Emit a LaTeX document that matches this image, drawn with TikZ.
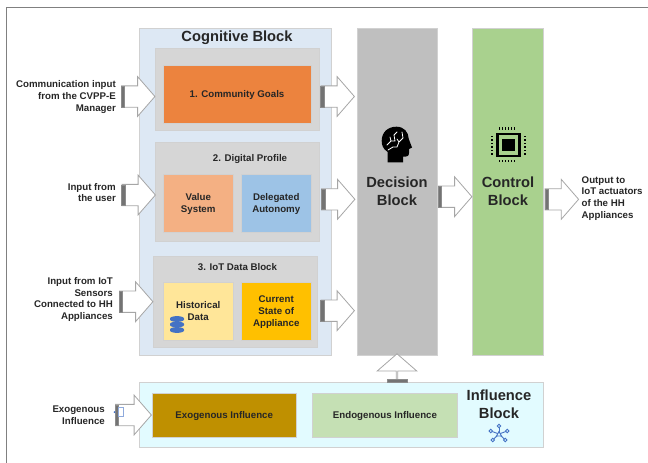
\documentclass[tikz,border=0pt]{standalone}
\usepackage{fontspec}
\setmainfont{Liberation Sans}
\usepackage{xcolor}
\definecolor{ColCog}{RGB}{221,232,244}
\definecolor{ColInner}{RGB}{214,214,214}
\definecolor{ColGoal}{RGB}{236,131,62}
\definecolor{ColValue}{RGB}{244,176,131}
\definecolor{ColAuto}{RGB}{157,195,230}
\definecolor{ColHist}{RGB}{255,230,153}
\definecolor{ColCurr}{RGB}{255,192,0}
\definecolor{ColDec}{RGB}{191,191,191}
\definecolor{ColCtrl}{RGB}{169,209,142}
\definecolor{ColInfl}{RGB}{226,251,255}
\definecolor{ColExo}{RGB}{191,144,0}
\definecolor{ColEndo}{RGB}{197,224,180}
\definecolor{ColIcon}{RGB}{68,114,196}
\usetikzlibrary{shapes.arrows}
\tikzstyle{Box}=[draw=black!18,line width=.8pt,inner sep=0pt,align=center,
text depth=0pt,text=black!85,font=\fontsize{9.7}{11.8}\selectfont\bfseries]
\tikzstyle{Title}=[inner sep=0pt,align=center,text=black!85,
font=\fontsize{14.7}{17.6}\selectfont\bfseries]
\tikzstyle{Label}=[inner sep=0pt,text=black!85,
font=\fontsize{9.7}{11.8}\selectfont\bfseries]
\tikzstyle{LabelR}=[Label,anchor=east,align=right]
\tikzstyle{LabelL}=[Label,anchor=west,align=left]
\tikzstyle{BlockArrow}=[single arrow,anchor=tail,draw=black!35,fill=white,
line width=.8pt,inner xsep=0pt,inner ysep=10.25pt,minimum width=39.5pt,
single arrow head extend=9.25pt,
single arrow tip angle=98,minimum height=33.5pt]
\tikzstyle{Band}=[draw=black!45,fill=black!55,line width=.5pt,inner sep=0pt,
minimum width=3.5pt,minimum height=20.5pt]
\begin{document}
\begin{tikzpicture}[x=1pt,y=-1pt]
        \useasboundingbox(0,0)rectangle(648,463);
        \coordinate(fa)at(648,7.5);
        \coordinate(fb)at(6.5,7.5);
        \coordinate(fc)at(6.5,463);
        \draw[black!50,line width=1pt](fa)--(fb)--(fc);
        % cognitive block
        \node[Box,fill=ColCog,minimum width=192.5pt,minimum height=327pt](cog)at(235.25,191.5){};
        \node[Title](cogt)at(237,37.5){Cognitive Block};
        \node[Box,fill=ColInner,minimum width=164.5pt,minimum height=82.5pt](g1)at(237.25,89.25){};
        \node[Box,fill=ColGoal,minimum width=148pt,minimum height=58pt](goal)at(237,94){1. Community Goals};
        \node[Box,fill=ColInner,minimum width=164.5pt,minimum height=98.5pt](g2)at(237.25,191.75){};
        \node[Label](g2t)at(250,158.8){2. Digital Profile};
        \node[Box,fill=ColValue,minimum width=70.5pt,minimum height=58pt](val)at(198.25,203){Value\\System};
        \node[Box,fill=ColAuto,minimum width=70.5pt,minimum height=58pt](aut)at(276.25,203){Delegated\\Autonomy};
        \node[Box,fill=ColInner,minimum width=164pt,minimum height=91pt](g3)at(235.5,302.2){};
        \node[Label](g3t)at(237.5,267){3. IoT Data Block};
        \node[Box,fill=ColHist,minimum width=70.5pt,minimum height=58pt](his)at(198.25,311){Historical\\Data};
        \node[Box,fill=ColCurr,minimum width=70.5pt,minimum height=58pt](cur)at(276.25,311){Current\\State of\\Appliance};
        % decision and control
        \node[Box,fill=ColDec,minimum width=80.5pt,minimum height=327pt](dec)at(397.2,191.5){};
        \node[Title](dect)at(397,191.5){Decision\\Block};
        \node[Box,fill=ColCtrl,minimum width=70.5pt,minimum height=327pt](ctl)at(508,191.5){};
        \node[Title](ctlt)at(508,191.5){Control\\Block};
        % influence block
        \node[Box,fill=ColInfl,minimum width=404.5pt,minimum height=65pt](inf)at(341.25,415.2){};
        \node[Box,fill=ColExo,minimum width=144.5pt,minimum height=44.5pt](exo)at(224.25,415.2){Exogenous Influence};
        \node[Box,fill=ColEndo,minimum width=145pt,minimum height=44.5pt](end)at(385,415.2){Endogenous Influence};
        \node[Title](inft)at(499,404){Influence\\Block};
        % side labels
        \node[LabelR](l1)at(116,97){Communication input\\from the CVPP-E\\Manager};
        \node[LabelR](l2)at(116,192.5){Input from\\the user};
        \node[LabelR](l3)at(113,299.5){Input from IoT\\Sensors\\Connected to HH\\Appliances};
        \node[LabelR](l4)at(105,415.5){Exogenous\\Influence};
        \node[LabelL](l5)at(581.5,198.5){Output to\\IoT actuators\\of the HH\\Appliances};
        % arrows
        \node[BlockArrow](a1)at(121,96.5){};
        \node[BlockArrow](a2)at(121.5,195){};
        \node[BlockArrow](a3)at(119,301.7){};
        \node[BlockArrow,minimum height=36pt](a4)at(115,415){};
        \node[BlockArrow](o1)at(320.5,96.5){};
        \node[BlockArrow](o2)at(321,199.3){};
        \node[BlockArrow](o3)at(320.5,310.7){};
        \node[BlockArrow](o4)at(438,196.7){};
        \node[BlockArrow](o5)at(544.7,199.3){};
        \node[BlockArrow,shape border rotate=90,minimum height=28.5pt](up)at(397,382.7){};
        \node[Band](b1)at(122.5,96.5){};
        \node[Band](b2)at(123,195){};
        \node[Band](b3)at(120.5,301.7){};
        \node[Band](b4)at(116.5,415){};
        \node[Band](b5)at(322,96.5){};
        \node[Band](b6)at(323,199.3){};
        \node[Band](b7)at(322,310.7){};
        \node[Band](b8)at(439.5,196.7){};
        \node[Band](b9)at(546.5,199.3){};
        \node[Band,minimum width=20.5pt,minimum height=3.5pt](b10)at(397,380.7){};
        % small handle on the exogenous arrow
        \draw[ColIcon!60,line width=.6pt,fill=white](118,407.5)rectangle(123,416);
        \fill[ColIcon](114.5,412)circle(1pt);
        % head icon
        \fill[black](387.7,162.3)--(387.7,152)
            ..controls(383,149)and(381.7,145)..(381.7,141)
            ..controls(381.7,132)and(388,126.7)..(396.5,126.7)
            ..controls(404,126.7)and(408.5,132)..(408.8,139)
            --(412,147.5)--(409,149)--(409,153)
            ..controls(409,156)and(407,157)..(403,156.5)--(403,162.3)--cycle;
        \draw[white,line width=.8pt,line cap=round](387,145)--(391,141)--(390,137)
            (391,141)--(395,141)--(394,135)--(397,132)
            (388,150)--(393,147)--(397,147)--(399,142)--(397,139)
            (399,142)--(403,138)(402,132)--(403,138);
        % chip icon
        \draw[black,line width=2.6pt](497.2,133.8)rectangle(519.6,155.8);
        \fill[black](502,138.8)rectangle(514.8,150.8);
        \foreach \i in {0,...,5}{
            \fill[black](498.6+\i*3,127.3)rectangle(500.4+\i*3,129.5);
            \fill[black](498.6+\i*3,160)rectangle(500.4+\i*3,162.2);
            \fill[black](490.5,135.5+\i*3.5)rectangle(492.8,137.3+\i*3.5);
            \fill[black](524,135.5+\i*3.5)rectangle(526.3,137.3+\i*3.5);
        }
        % database icon
        \foreach \y in {329.5,324,318.5}{
            \fill[ColIcon](170,\y)--(170,\y+1)arc[start angle=180,end angle=360,x radius=7,y radius=-2.4]
                --(184,\y)arc[start angle=0,end angle=180,x radius=7,y radius=-2.4]--cycle;
        }
        % network icon
        \coordinate(nc)at(499,434);
        \foreach \x/\y in {499/426,490.7/431,507.3/431,492.7/440,505.3/440}{
            \draw[ColIcon,line width=.9pt](nc)--(\x,\y);
            \draw[ColIcon,line width=.9pt,fill=ColInfl](\x,\y)circle(1.8pt);
        }
        \draw[ColIcon,line width=.9pt,fill=ColInfl](496.5,436)--(501.5,436)--(499,431.5)--cycle;
    \end{tikzpicture}
\end{document}
